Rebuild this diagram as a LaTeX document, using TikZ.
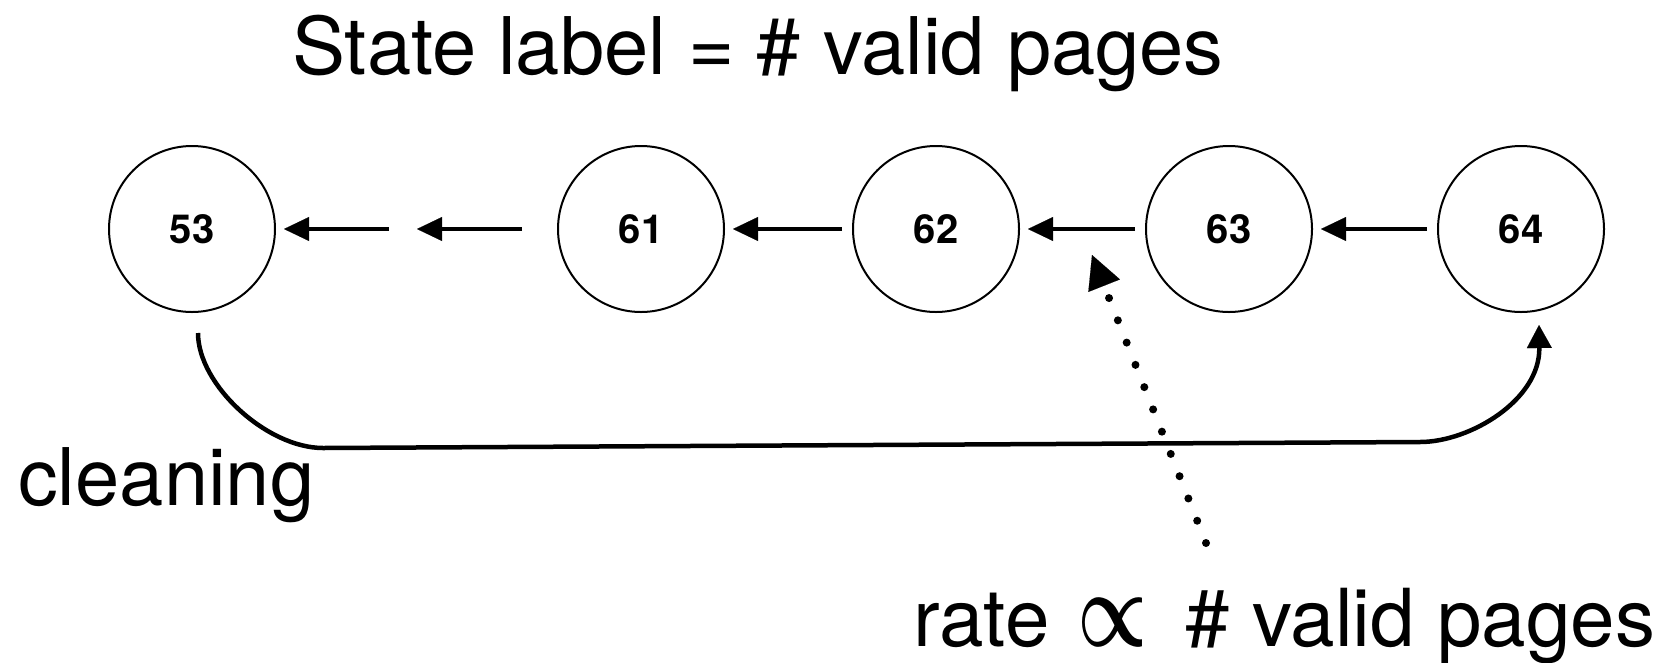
\documentclass[tikz,border=0pt]{standalone}
\usepackage{fontspec}
\setmainfont{TeX Gyre Heros}
\usetikzlibrary{arrows.meta,calc}
\begin{document}
\begin{tikzpicture}[x=1pt,y=-1pt,
  state/.style={circle,draw,line width=2pt,minimum size=166pt,inner sep=0pt,
    font=\fontsize{40}{40}\selectfont\bfseries},
  flow/.style={line width=4.5pt,-{Triangle[length=25pt,width=24pt,line width=0.1pt]}},
  gapped/.style={shorten <=10pt,shorten >=8pt},
  bigtext/.style={anchor=base west,inner sep=0pt,font=\fontsize{79.5}{90}\selectfont},
  cleanloop/.style={line width=4.5pt,-{Triangle[length=23pt,width=25pt,line width=0.1pt]}},
  ratepointer/.style={line width=8pt,line cap=round,dash pattern=on 0pt off 23.95pt,
    -{Triangle[length=33pt,width=34pt,line width=0.1pt]}}
]
\useasboundingbox (0,0) rectangle (1664,662);

% heading
\node[bigtext] (title) at (292,74) {State label = \# valid pages};

% chain of states
\node[state] (n53) at (192,229) {53};
\node[state] (n61) at (641,229) {61};
\node[state] (n62) at (936,229) {62};
\node[state] (n63) at (1229,229) {63};
\node[state] (n64) at (1521,229) {64};

% transitions between neighbouring states
\draw[flow,gapped] (n64) -- (n63);
\draw[flow,gapped] (n63) -- (n62);
\draw[flow,gapped] (n62) -- (n61);

% elided part of the chain
\coordinate (skipA) at (389,229);
\coordinate (skipB) at (522,229);
\coordinate (skipC) at (417,229);
\draw[flow,shorten >=8pt] (skipA) -- (n53);
\draw[flow] (skipB) -- (skipC);

% cleaning jumps back to the full state
\coordinate (cleanstart) at ($(n53.south)+(6,20)$);
\coordinate (cleanend) at ($(n64.south)+(18,12)$);
\draw[cleanloop] (cleanstart) .. controls (198,385) and (267,448) .. (323,448)
  -- (1420,442) .. controls (1470,442) and (1540,400) .. (cleanend);
\node[bigtext] (cleaning) at (18,505) {cleaning};

% rate annotation
\coordinate (ratetail) at (1206,543);
\coordinate (ratehead) at (1092,255);
\draw[ratepointer] (ratetail) -- (ratehead);
\node[anchor=base west,inner sep=0pt,font=\fontsize{80}{90}\selectfont] (rate) at (913,646)
  {rate\hspace{28pt}\resizebox{70pt}{48pt}{\boldmath$\propto$}\hspace{38pt}\# valid pages};
\end{tikzpicture}
\end{document}
